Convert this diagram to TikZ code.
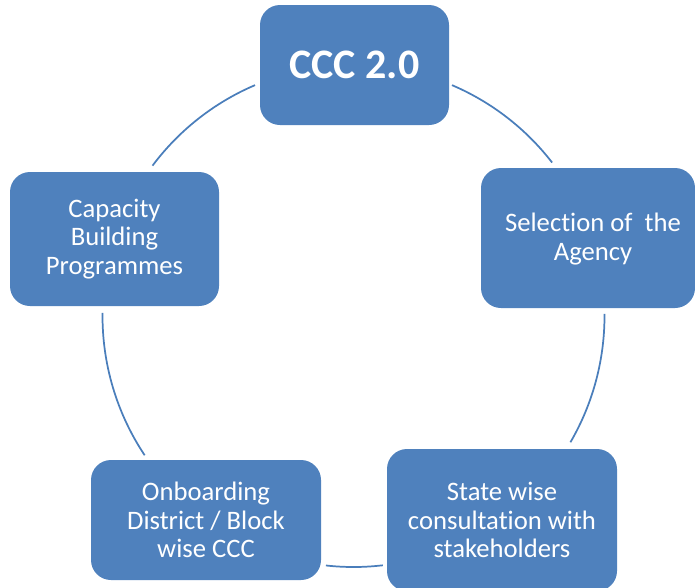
\documentclass[tikz,border=0pt]{standalone}
\usepackage{fontspec}
\setmainfont{Carlito}[Ligatures=NoCommon]
\definecolor{boxblue}{HTML}{4F81BD}
\definecolor{ringblue}{HTML}{4A7EBB}
\tikzset{
  stage/.style={rectangle, rounded corners=15pt, fill=boxblue, text=white,
    align=center, font=\fontsize{20}{21.5}\selectfont, inner sep=0pt},
  ring/.style={draw=ringblue, line width=1.3pt}
}

\begin{document}
\begin{tikzpicture}[x=0.75pt,y=0.75pt,yscale=-1,xscale=1]
\useasboundingbox (0,0) rectangle (695,587);

%Centre of the cycle
\coordinate (ctr) at (353.5,316);

%Rounded Rect: top
\node[stage, minimum width=141.75pt, minimum height=90pt,
  font=\fontsize{31.5}{34}\selectfont\bfseries] (ccc) at (354.5,65) {CCC 2.0};
%Rounded Rect: right
\node[stage, minimum width=160.5pt, minimum height=105pt] (agency) at (588,238) {};
\node[text=white, align=center, font=\fontsize{20}{21.5}\selectfont] (agencytxt) at (593,239) {Selection of\ \ the\\Agency};
%Rounded Rect: bottom right
\node[stage, minimum width=172.5pt, minimum height=106.5pt] (consult) at (502,520) {State wise\\consultation with\\stakeholders};
%Rounded Rect: bottom left
\node[stage, minimum width=172.5pt, minimum height=90pt] (onboard) at (206,520) {Onboarding\\District / Block\\wise CCC};
%Rounded Rect: left
\node[stage, minimum width=156.75pt, minimum height=100.5pt] (capacity) at (114.5,239) {Capacity\\Building\\Programmes};

%Arcs of the cycle
\foreach \a/\b in {216.8/246.9, 293.1/322.3, 359.5/390.2, 83.3/96.3, 146.3/180.7}
  \draw[ring] ([shift={(\a:251)}]ctr) arc[start angle=\a, end angle=\b, radius=251];

\end{tikzpicture}
\end{document}
